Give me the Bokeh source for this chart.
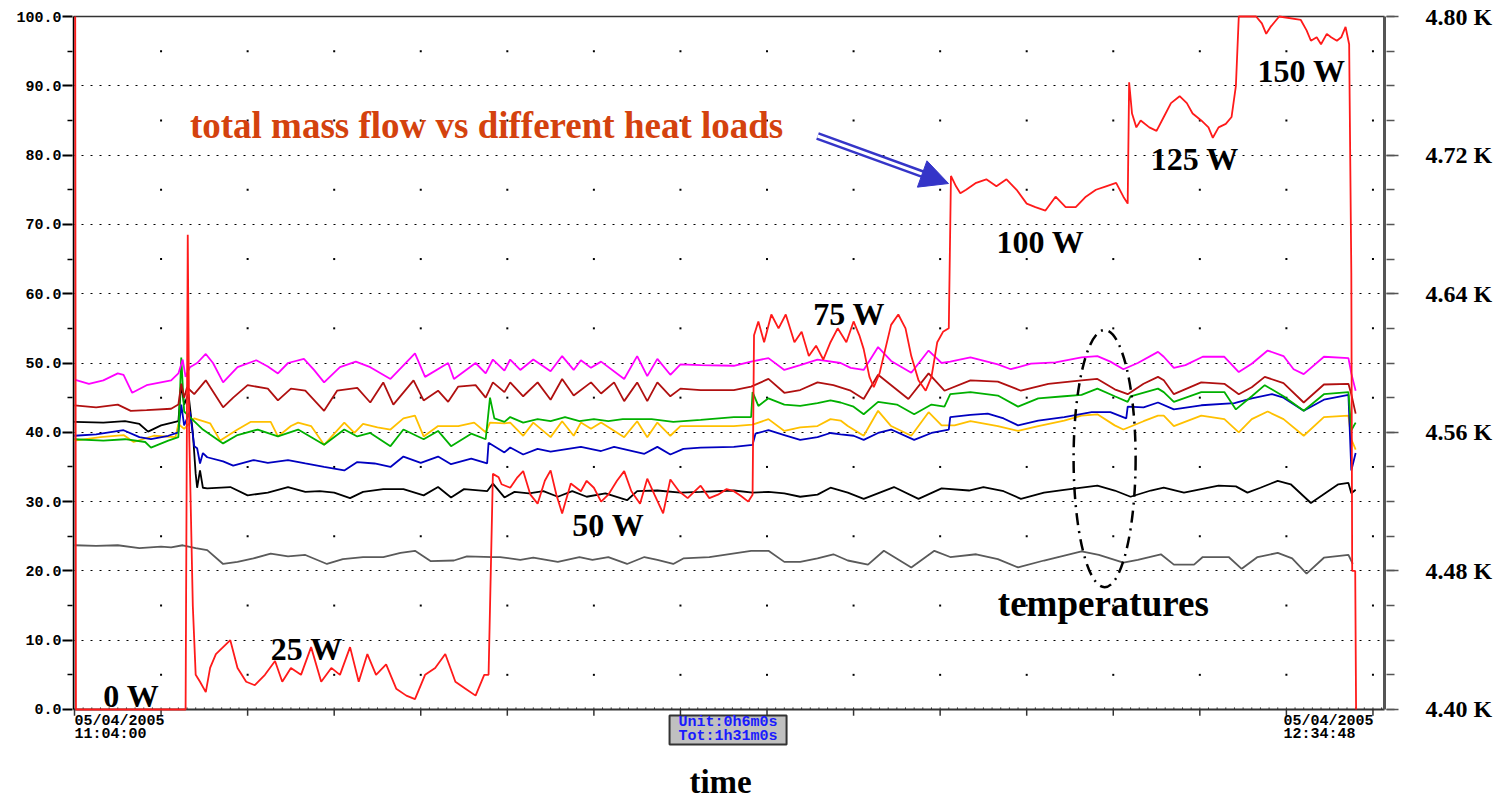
import numpy as np
from bokeh.plotting import figure
from bokeh.models import (Range1d, LinearAxis, FixedTicker, PrintfTickFormatter,
                          Label, Arrow, NormalHead)
from bokeh.embed import file_html
from bokeh.resources import INLINE

# ---------------- data (time in minutes after 11:04:00) ----------------
T_END = 90.8  # 12:34:48
x_ticks = [0, 6, 12, 18, 24, 30, 36, 42, 48, 54, 60, 66, 72, 78, 84, 90]
y_ticks = [0, 10, 20, 30, 40, 50, 60, 70, 80, 90, 100]
k_ticks = [4.40, 4.48, 4.56, 4.64, 4.72, 4.80]
start_label = ["05/04/2005", "11:04:00"]
end_label = ["05/04/2005", "12:34:48"]
unit_label = ["Unit:0h6m0s", "Tot:1h31m0s"]

# total mass flow (red)
red_t = [0.05, 0.1, 7.7, 7.85, 7.95, 8.2, 8.4, 8.7, 9.1, 9.4, 9.8, 10.3, 10.8, 11.3, 11.9,
         12.5, 13.2, 13.9, 14.4, 15.0, 15.7, 16.4, 17.1, 17.8, 18.4, 19.1, 19.7, 20.3, 20.9,
         21.6, 22.3, 23.0, 23.6, 24.3, 25.0, 25.7, 26.4, 27.1, 27.8, 28.4, 28.7, 29.0,
         29.4, 29.6, 30.2, 30.7, 31.1, 31.6, 32.1, 32.6, 33.0, 33.4, 33.8, 34.4, 35.1, 35.5,
         36.0, 36.5, 37.0, 37.6, 38.1, 38.6, 39.2, 39.7, 40.2, 40.8, 41.3, 41.9, 42.5, 43.0,
         43.4, 44.0, 44.6, 45.2, 45.7, 46.2, 46.7, 47.0, 47.1, 47.4, 47.8, 48.3, 48.8, 49.3,
         49.9, 50.4, 50.9, 51.4, 51.9, 52.4, 52.9, 53.5, 54.0, 54.4, 54.7, 55.1, 55.4, 55.8,
         56.2, 56.6, 57.1, 57.6, 58.0, 58.5, 59.0, 59.4, 59.8, 60.2, 60.6, 60.75, 61.1, 61.4,
         61.8, 62.5, 63.2, 63.9, 64.6, 65.3, 66.0, 66.6, 67.3, 68.0, 68.7, 69.4, 70.1, 70.8,
         71.5, 72.2, 72.7, 73.0, 73.1, 73.3, 73.6, 73.9, 74.5, 75.0, 75.5, 76.0, 76.6, 77.1,
         77.5, 78.1, 78.6, 78.9, 79.3, 79.8, 80.2, 80.5, 80.7, 81.9, 82.3, 82.6, 82.9, 83.5,
         85.0, 85.4, 85.7, 86.1, 86.4, 86.8, 87.1, 87.5, 87.8, 88.1, 88.35, 88.5, 88.56,
         88.77, 88.83]
red_v = [100, 0, 0, 68.5, 40, 15, 5, 4, 2.5, 6, 8, 9, 10, 6, 4,
         3.5, 5, 7, 4, 6, 5, 9, 4, 6, 5, 9, 4, 8, 5,
         6.5, 3, 2, 1.5, 5, 6, 8, 4, 3, 2, 5, 5, 34,
         33.5, 32.5, 32, 33.5, 34.4, 31, 29.7, 33, 34.5, 31, 28.3, 32.6, 31.5, 33,
         32, 30, 31, 33, 34.4, 31.5, 29.7, 33.3, 31, 28.3, 33.2, 31.5, 30.5, 31.5,
         32.3, 30.5, 31, 31.8, 31.5, 30.8, 30, 31, 54, 56, 53, 57, 55, 57,
         53, 54.5, 51, 52.5, 50.5, 53, 55, 53, 56, 54, 52, 48, 46.5, 48.5,
         52, 55.5, 57, 55, 51, 47.5, 46, 48, 53, 54.5, 55, 77, 75.5, 74.5,
         75, 76, 76.5, 75.5, 76.5, 75, 73, 72.5, 72, 74, 72.5, 72.5, 74, 75,
         75.5, 76, 74, 73, 90.5, 86, 84, 85, 84, 83.5, 85.5, 87.5, 88.5, 87.5,
         86, 85, 84, 82.5, 84, 84.5, 85.5, 90, 100, 100, 99, 97.5, 98.5, 100,
         99.5, 98, 96.5, 97, 96, 97.5, 97, 96.5, 97, 98.5, 96, 63, 20,
         20, 0]

mag_t = [0, 1.0, 2.0, 3.0, 3.4, 4.0, 5.0, 6.7, 7.2, 7.5, 7.7, 8.0, 8.5, 9.1, 9.6, 10.3, 11.3,
         12.6, 13.4, 14.1, 14.8, 15.9, 16.6, 17.3, 18.4, 19.5, 20.5, 21.9, 23.6, 24.3, 25.9,
         26.3, 27.8, 28.5, 29.0, 29.8, 30.2, 30.9, 31.8, 33.0, 33.8, 34.6, 35.1, 35.8, 36.5,
         38.1, 39.0, 39.7, 40.4, 41.3, 42.0, 43.4, 45.7, 46.9, 48.1, 49.2, 50.3, 51.5, 53.1,
         53.8, 54.7, 55.7, 56.6, 58.0, 59.2, 60.1, 60.7, 62.1, 64.0, 64.9, 66.3, 68.0, 69.8,
         70.9, 71.8, 72.7, 73.7, 75.1, 75.5, 76.2, 77.0, 78.2, 79.7, 80.7, 81.6, 82.7, 83.8,
         84.5, 85.2, 86.6, 88.3, 88.5, 88.8]
mag_v = [47.6, 47.0, 47.5, 48.5, 48.3, 45.7, 46.8, 47.5, 48.5, 50.5, 48.0, 49.4, 50.0, 51.3,
         50.0, 47.2, 49.4, 50.4, 49.5, 48.5, 50.0, 50.6, 49.0, 47.2, 49.4, 50.2, 49.4, 47.7,
         51.4, 48.0, 50.0, 47.7, 50.0, 48.5, 50.5, 48.9, 50.5, 49.0, 50.5, 48.8, 51.0, 49.0,
         50.4, 49.3, 50.2, 47.7, 51.0, 48.1, 50.6, 48.3, 49.8, 49.7, 49.6, 50.2, 50.7, 49.0,
         49.7, 50.5, 50.0, 49.3, 49.0, 52.3, 50.3, 48.6, 51.8, 50.0, 50.2, 50.8, 49.8, 49.1,
         49.9, 50.1, 50.8, 51.0, 50.2, 49.1, 50.0, 51.6, 50.9, 49.3, 49.7, 50.9, 50.9, 48.7,
         49.9, 51.8, 51.0, 49.1, 48.4, 50.9, 50.7, 48.5, 46.0]

dred_t = [0, 1.5, 3.0, 3.9, 5.0, 6.7, 7.2, 7.4, 7.6, 7.8, 8.3, 9.1, 10.3, 11.0, 12.0, 13.4,
          14.1, 15.0, 16.0, 17.3, 18.2, 19.6, 20.5, 21.4, 22.1, 23.5, 24.2, 25.2, 25.9, 26.6,
          27.8, 28.5, 29.0, 29.8, 30.2, 31.1, 32.1, 33.0, 33.8, 34.6, 35.8, 36.5, 37.4, 38.1,
          39.0, 39.7, 40.4, 41.3, 42.0, 43.4, 45.7, 46.9, 48.1, 49.2, 50.3, 51.5, 52.6, 53.8,
          54.7, 55.7, 57.8, 59.2, 60.3, 62.1, 64.0, 65.6, 67.5, 69.8, 70.9, 72.1, 73.0, 74.1,
          75.1, 75.5, 76.2, 78.1, 79.7, 80.7, 81.6, 82.5, 83.8, 85.2, 86.6, 88.3, 88.5, 88.8]
dred_v = [43.9, 43.6, 44.0, 43.1, 43.2, 43.4, 44.0, 47.0, 45.0, 46.5, 45.5, 47.5, 43.6, 45.0,
          46.8, 46.3, 44.6, 46.3, 46.0, 43.1, 46.0, 46.4, 44.3, 47.2, 44.0, 47.5, 44.6, 46.0,
          44.4, 46.6, 46.8, 45.0, 47.2, 45.8, 47.2, 45.2, 47.2, 44.7, 47.7, 45.3, 47.2, 45.6,
          47.2, 44.5, 47.2, 44.5, 47.2, 45.2, 46.3, 46.1, 46.1, 46.6, 47.7, 45.7, 46.1, 47.2,
          46.8, 46.0, 44.8, 48.3, 44.8, 48.5, 46.0, 47.5, 47.3, 46.0, 47.0, 47.5, 47.7, 46.2,
          45.5, 47.0, 48.0, 47.5, 45.5, 47.2, 47.0, 45.5, 46.5, 48.0, 47.1, 44.3, 46.9, 47.0,
          45.5, 42.7]

grn_t = [0, 2.0, 3.5, 4.9, 5.3, 6.5, 7.2, 7.4, 7.6, 8.0, 8.9, 10.3, 11.3, 12.7, 14.1, 15.5,
         17.3, 18.7, 19.6, 20.5, 21.9, 22.8, 24.2, 25.2, 26.1, 27.5, 28.5, 28.8, 29.1, 29.8,
         30.2, 31.1, 32.1, 33.0, 34.0, 35.0, 36.0, 37.0, 38.0, 39.0, 40.0, 41.5, 43.4, 45.7,
         46.9, 47.0, 47.4, 48.1, 49.2, 50.3, 51.5, 52.4, 53.1, 54.0, 54.7, 55.7, 57.0, 58.2,
         59.4, 60.3, 60.7, 62.1, 64.0, 65.4, 66.8, 68.6, 69.8, 70.9, 72.1, 73.0, 73.2, 75.1,
         75.5, 76.2, 78.1, 79.7, 80.5, 81.6, 82.5, 83.8, 85.2, 86.6, 88.3, 88.5, 88.8]
grn_v = [39.0, 38.8, 39.0, 38.6, 37.8, 38.8, 39.3, 50.8, 43.0, 42.2, 40.4, 38.4, 39.6, 40.4,
         39.4, 40.4, 38.2, 40.4, 39.4, 39.9, 38.0, 40.4, 39.0, 40.2, 38.0, 39.8, 39.0, 45.0,
         42.0, 41.5, 42.2, 41.4, 41.9, 41.6, 42.2, 41.6, 41.9, 41.6, 41.9, 41.9, 41.9, 41.5,
         41.8, 42.2, 42.2, 45.8, 43.8, 44.9, 44.0, 43.8, 44.2, 44.6, 44.3, 43.7, 42.6, 44.4,
         44.0, 42.6, 44.0, 43.7, 45.5, 45.8, 45.3, 43.7, 44.9, 45.2, 45.4, 46.3, 45.2, 44.4,
         45.2, 46.3, 45.8, 44.4, 45.8, 45.8, 43.3, 45.2, 46.8, 45.2, 43.1, 45.5, 45.8, 40.3,
         41.4]

yel_t = [0, 1.8, 3.4, 4.1, 5.5, 7.0, 7.2, 7.6, 8.3, 9.4, 10.1, 11.3, 12.2, 13.6, 14.1, 15.0,
         15.5, 16.4, 17.3, 18.7, 19.4, 20.0, 21.0, 21.9, 22.8, 23.6, 24.2, 25.2, 26.6, 27.7,
         28.5, 28.8, 29.8, 30.2, 31.1, 31.8, 33.0, 33.8, 34.6, 35.1, 35.8, 36.5, 38.1, 39.0,
         39.7, 40.4, 41.3, 42.0, 43.4, 45.7, 47.0, 48.1, 49.2, 50.3, 51.5, 52.4, 53.1, 53.6,
         54.7, 55.7, 56.6, 58.0, 59.2, 60.1, 61.0, 62.1, 64.0, 65.4, 66.8, 68.6, 69.8, 70.9,
         72.1, 72.7, 74.1, 75.1, 75.5, 76.2, 78.1, 79.7, 80.7, 81.6, 82.7, 83.8, 85.2, 86.6,
         88.3, 88.5, 88.8]
yel_v = [38.8, 39.3, 39.6, 38.6, 39.5, 39.3, 41.2, 40.5, 42.0, 41.3, 38.8, 40.4, 41.5, 41.5,
         39.4, 40.9, 41.4, 40.9, 38.2, 41.4, 39.9, 41.2, 40.7, 40.4, 42.0, 42.4, 39.4, 40.9,
         40.9, 41.4, 40.0, 41.4, 41.3, 41.4, 39.5, 41.4, 39.3, 41.6, 39.5, 41.4, 40.5, 41.4,
         39.3, 41.6, 39.3, 41.4, 39.5, 40.9, 40.9, 40.9, 41.1, 41.9, 40.2, 40.7, 40.9, 41.9,
         41.7, 40.9, 39.5, 43.1, 40.9, 39.5, 42.9, 41.0, 41.0, 41.6, 40.9, 40.2, 40.9, 41.7,
         42.4, 42.6, 41.0, 40.4, 41.6, 42.4, 42.4, 40.9, 42.4, 41.9, 40.0, 41.9, 43.0, 41.9,
         39.5, 42.2, 42.4, 39.0, 37.5]

blu_t = [0, 1.5, 3.4, 4.5, 5.3, 6.5, 7.2, 7.4, 7.6, 8.0, 8.3, 8.5, 8.7, 8.9, 9.2, 10.3, 11.0,
         12.4, 13.4, 14.8, 16.0, 17.3, 18.7, 19.6, 20.8, 21.9, 22.8, 24.0, 25.2, 26.1, 27.5,
         28.6, 28.7, 29.8, 30.2, 31.1, 32.1, 33.0, 35.1, 36.5, 37.4, 39.5, 40.4, 41.3, 42.2,
         43.4, 45.7, 47.0, 47.2, 48.1, 49.2, 50.3, 51.5, 52.4, 53.1, 54.0, 54.7, 55.7, 56.6,
         58.2, 59.4, 60.6, 60.7, 62.1, 63.3, 64.4, 65.4, 66.8, 68.6, 70.5, 71.8, 72.9, 73.0,
         74.1, 75.1, 76.2, 78.1, 80.4, 81.6, 83.0, 83.8, 85.2, 86.6, 88.3, 88.5, 88.8]
blu_v = [39.5, 39.7, 40.3, 39.3, 39.0, 39.5, 40.0, 44.0, 41.0, 43.0, 38.0, 37.7, 35.5, 37.0,
         36.4, 35.8, 35.2, 36.0, 35.6, 36.0, 35.5, 35.0, 34.5, 35.7, 35.5, 35.0, 36.5, 35.6,
         36.5, 35.4, 36.2, 35.5, 38.5, 37.1, 37.8, 36.8, 37.6, 37.2, 37.9, 37.3, 37.9, 36.9,
         37.9, 36.8, 37.6, 37.8, 37.9, 38.2, 39.8, 40.3, 39.6, 38.9, 39.3, 39.9, 39.7, 39.5,
         38.9, 39.9, 40.4, 38.9, 39.9, 40.4, 42.2, 42.5, 42.7, 42.0, 41.0, 41.7, 42.2, 42.9,
         42.9, 42.0, 43.7, 43.6, 44.3, 43.3, 43.9, 44.2, 44.9, 45.5, 45.0, 43.1, 44.7, 45.4,
         34.5, 37.0]

blk_t = [0, 2.0, 3.5, 4.5, 5.1, 6.0, 7.2, 7.4, 7.6, 7.9, 8.2, 8.4, 8.5, 8.7, 8.9, 9.2, 10.8,
         12.0, 13.4, 14.8, 16.0, 17.0, 18.0, 19.1, 20.0, 21.4, 22.8, 24.2, 25.2, 26.1, 27.0,
         28.6, 29.0, 29.8, 30.5, 31.5, 32.5, 33.5, 34.5, 35.5, 36.8, 38.3, 39.0, 40.4, 42.0,
         43.4, 45.7, 47.0, 48.1, 49.2, 50.3, 51.5, 52.4, 53.6, 54.7, 56.8, 58.5, 60.1, 62.0,
         63.0, 64.4, 65.6, 67.2, 68.6, 70.9, 72.1, 73.2, 74.6, 75.5, 76.9, 79.3, 80.5, 81.3,
         82.2, 83.4, 84.3, 85.7, 87.6, 88.3, 88.5, 88.8]
blk_v = [41.5, 41.4, 41.6, 41.2, 40.1, 41.0, 41.6, 47.0, 44.0, 45.5, 40.0, 34.0, 32.0, 34.5,
         32.0, 31.9, 32.1, 30.9, 31.3, 32.1, 31.4, 31.5, 31.3, 30.5, 31.4, 31.8, 31.8, 30.9,
         32.1, 30.6, 31.8, 31.5, 32.6, 30.6, 31.4, 31.2, 31.5, 30.7, 31.5, 30.7, 31.2, 30.2,
         31.5, 31.6, 31.3, 31.4, 31.6, 31.3, 31.4, 31.2, 30.7, 31.0, 32.0, 31.3, 30.4, 32.1,
         30.4, 31.9, 31.6, 32.1, 31.5, 30.4, 31.3, 31.7, 32.3, 31.6, 30.7, 31.6, 32.0, 31.3,
         32.3, 32.2, 31.3, 32.0, 33.0, 32.5, 29.8, 32.5, 32.7, 31.2, 31.7]

gry_t = [0, 1.5, 3.0, 4.5, 6.0, 6.7, 7.5, 8.4, 9.2, 10.3, 11.3, 12.4, 13.6, 14.8, 16.0, 17.5,
         18.6, 20.0, 21.4, 22.6, 23.6, 24.7, 26.3, 27.2, 29.0, 29.5, 30.9, 31.8, 33.5, 35.0,
         35.9, 37.0, 38.3, 39.5, 40.4, 41.5, 42.2, 44.0, 46.9, 48.1, 49.2, 50.3, 51.5, 52.6,
         53.6, 55.0, 56.1, 58.0, 59.6, 60.7, 62.5, 64.0, 65.4, 67.2, 69.8, 71.0, 72.7, 73.7,
         75.3, 76.2, 77.6, 78.2, 80.0, 80.9, 82.0, 83.4, 84.4, 85.4, 86.6, 88.3, 88.6]
gry_v = [23.7, 23.6, 23.7, 23.3, 23.5, 23.4, 23.7, 23.3, 23.0, 21.0, 21.3, 21.8, 22.5, 22.1,
         22.3, 21.0, 21.7, 22.0, 22.0, 22.6, 22.9, 21.4, 21.5, 22.1, 22.0, 22.0, 21.6, 21.9,
         21.3, 22.0, 21.6, 22.0, 21.0, 22.0, 21.6, 21.0, 21.8, 22.0, 22.9, 22.9, 21.3, 21.3,
         21.8, 22.4, 21.5, 20.9, 22.9, 20.5, 22.9, 22.0, 22.4, 21.7, 20.5, 21.5, 22.8, 22.3,
         21.2, 21.6, 22.4, 20.9, 20.9, 22.0, 22.0, 20.3, 22.0, 22.6, 21.8, 19.6, 21.9, 22.3,
         21.0]

# ---------------- figure ----------------
# frame spans from just left of the time axis to the bottom of the canvas so that
# the texts under the time axis can be drawn as annotations
X0, X1 = -0.1386, T_END + 0.1386
Y0, Y1 = -13.71, 100.29
KSCALE = 0.004  # kelvin per unit of the left scale
p = figure(width=1503, height=804, output_backend="svg", toolbar_location=None,
           x_range=Range1d(X0, X1), y_range=Range1d(Y0, Y1), x_axis_location=None,
           min_border_left=72, min_border_right=117, min_border_top=14, min_border_bottom=0)
p.background_fill_color = "white"
p.border_fill_color = "white"
p.outline_line_color = None
for g in p.xgrid:
    g.visible = False

# grid
p.ygrid.ticker = FixedTicker(ticks=y_ticks[1:-1])
p.ygrid.grid_line_color = "black"
p.ygrid.grid_line_dash = "2 7"
p.ygrid.grid_line_width = 1.2

# sparse grid dots at the time ticks between the dotted lines
gx, gy = np.meshgrid(x_ticks[1:], [v + 5 for v in y_ticks[:-1]])
p.scatter(gx.ravel(), gy.ravel(), marker="square", size=2, color="black", line_color=None)

# left axis (line drawn as glyph so it stops at 0)
ya = p.yaxis[0]
ya.ticker = FixedTicker(ticks=y_ticks, minor_ticks=[v + 5 for v in y_ticks[:-1]])
ya.formatter = PrintfTickFormatter(format="%.1f")
ya.axis_line_color = None
ya.major_tick_out = 10
ya.major_tick_in = 0
ya.minor_tick_out = 5
ya.minor_tick_in = 0
ya.major_tick_line_width = 2
ya.minor_tick_line_width = 1.5
ya.major_label_standoff = 1
ya.major_label_text_font = "Liberation Mono"
ya.major_label_text_font_style = "bold"
ya.major_label_text_font_size = "15px"
ya.major_label_text_color = "black"

# right axis (temperature)
p.extra_y_ranges = {"kelvin": Range1d(4.40 + Y0 * KSCALE, 4.40 + Y1 * KSCALE)}
ka = LinearAxis(y_range_name="kelvin",
                ticker=FixedTicker(ticks=k_ticks,
                                   minor_ticks=list(np.round(np.arange(4.40, 4.801, 0.02), 2))),
                formatter=PrintfTickFormatter(format="%.2f K"))
ka.axis_line_color = None
ka.major_tick_out = 12
ka.major_tick_in = 0
ka.minor_tick_out = 8
ka.minor_tick_in = 0
ka.major_tick_line_color = "#555555"
ka.minor_tick_line_color = "#555555"
ka.major_tick_line_width = 1.5
ka.minor_tick_line_width = 1.5
ka.major_label_standoff = 27
ka.major_label_text_font = "Liberation Serif"
ka.major_label_text_font_style = "bold"
ka.major_label_text_font_size = "24px"
ka.major_label_text_color = "black"
p.add_layout(ka, "right")

# axis lines, top border and time ticks
ax_x = -0.07
p.segment(x0=[ax_x], y0=[0], x1=[T_END], y1=[0], color="#333333", line_width=2)
p.segment(x0=[ax_x], y0=[100], x1=[T_END], y1=[100], color="#333333", line_width=1.5)
p.segment(x0=[T_END], y0=[0], x1=[T_END], y1=[100], color="#555555", line_width=3)
p.segment(x0=x_ticks, y0=[0] * len(x_ticks), x1=x_ticks, y1=[-0.9] * len(x_ticks),
          color="#333333", line_width=1.5)
minor_x = list(np.round(np.arange(0.6, T_END, 0.6), 2))
p.segment(x0=minor_x, y0=[0] * len(minor_x), x1=minor_x, y1=[0.3] * len(minor_x),
          color="#333333", line_width=1)
p.segment(x0=[ax_x], y0=[0], x1=[ax_x], y1=[100], color="black", line_width=2)

# ---------------- series ----------------
series = [
    (gry_t, gry_v, "#5a5a5a"),
    (blk_t, blk_v, "#000000"),
    (yel_t, yel_v, "#ffc000"),
    (blu_t, blu_v, "#0000c0"),
    (grn_t, grn_v, "#00b000"),
    (dred_t, dred_v, "#b01010"),
    (mag_t, mag_v, "#ff00ff"),
]
for t, v, c in series:
    p.line(t, v, color=c, line_width=1.8)
p.line(red_t, red_v, color="#ff1a1a", line_width=1.8)

# ---------------- annotations ----------------
def lab(x, y, text, size="32px", color="black", font="Liberation Serif", style="bold",
        align="left", baseline="middle"):
    p.add_layout(Label(x=x, y=y, text=text, text_font=font, text_font_style=style,
                       text_font_size=size, text_color=color, text_align=align,
                       text_baseline=baseline))

lab(8.0, 84.3, "total mass flow vs different heat loads", size="37px", color="#d4420e")
lab(2.0, 2.0, "0 W")
lab(13.6, 8.8, "25 W")
lab(34.5, 26.6, "50 W")
lab(51.2, 57.1, "75 W")
lab(63.9, 67.4, "100 W")
lab(74.6, 79.4, "125 W")
lab(82.0, 92.2, "150 W")
lab(64.0, 15.3, "temperatures", size="37px")
lab(44.78, -10.4, "time", size="33px", align="center")

# date labels under the time axis
for x0, lines in ((0.0, start_label), (83.8, end_label)):
    lab(x0, -1.75, lines[0], size="15px", font="Liberation Mono")
    lab(x0, -3.6, lines[1], size="15px", font="Liberation Mono")

# unit box
p.rect(x=[45.3], y=[-2.96], width=8.11, height=4.18, fill_color="#c0c0c0",
       line_color="#333333", line_width=2)
lab(45.3, -1.85, unit_label[0], size="15px", font="Liberation Mono", color="#1a1aff",
    align="center")
lab(45.3, -3.95, unit_label[1], size="15px", font="Liberation Mono", color="#1a1aff",
    align="center")

# double-line arrow
p.segment(x0=[51.5], y0=[82.76], x1=[59.01], y1=[77.08], color="#3535c8", line_width=8)
p.segment(x0=[51.5], y0=[82.76], x1=[59.01], y1=[77.08], color="white", line_width=3)
p.add_layout(Arrow(x_start=51.5, y_start=82.76, x_end=60.58, y_end=75.9,
                   line_alpha=0, line_width=1,
                   end=NormalHead(size=28, fill_color="#3535c8", line_color="#3535c8")))

# dash-dot ellipse around temperatures
p.ellipse(x=[71.4], y=[36.2], width=4.3, height=37.1, fill_color=None,
          line_color="black", line_width=2.5, line_dash="12 6 2 6")

open("out.html", "w").write(file_html(p, INLINE))
